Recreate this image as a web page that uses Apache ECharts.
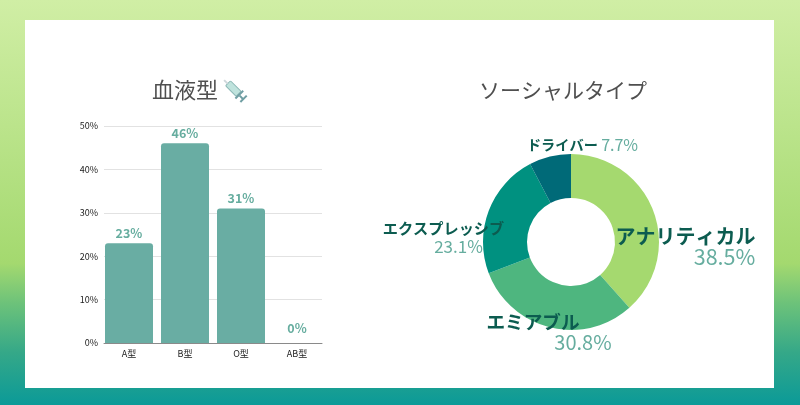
<!DOCTYPE html>
<html><head><meta charset="utf-8">
<style>html,body{margin:0;padding:0;background:#fff}#c{width:800px;height:405px}</style>
<script src="https://cdn.jsdelivr.net/npm/echarts@6/dist/echarts.min.js"></script></head>
<body><div id="c"></div>
<script>
const bloodTypes = ['A型','B型','O型','AB型'];
const bloodValues = [23,46,31,0];
const socialNames = ['アナリティカル','エミアブル','エクスプレッシブ','ドライバー'];
const socialValues = [38.5,30.8,23.1,7.7];
const socialColors = ['#a5d96f','#4eb67f','#009180','#006a78'];
const F = '"Noto Sans CJK JP","Noto Sans",sans-serif';
const NAME='#0c5c50', VAL='#66ad9f';
const labelStyles = [
 {nameSize:20,valSize:21.5,offset:[50,29],sep:'\n',valPad:[0,0,0,78],lh:20},
 {nameSize:18.6,valSize:20,offset:[-5,23],sep:'\n',valPad:[0,0,0,67],namePad:[0,33,0,0],lh:21},
 {nameSize:15.2,valSize:17,offset:[-63,20],sep:'\n',valPad:[0,0,0,30],lh:19},
 {nameSize:14.2,valSize:16,offset:[28,-30],sep:' ',lh:17}
];
const chart = echarts.init(document.getElementById('c'));
chart.setOption({
 animation:false,
 backgroundColor:new echarts.graphic.LinearGradient(0,0,0,1,[
  {offset:0,color:'#d0eea5'},{offset:0.65,color:'#a4d96f'},{offset:0.75,color:'#6cc27a'},{offset:0.87,color:'#35a888'},{offset:1,color:'#0b9a98'}]),
 graphic:[
  {type:'rect',z:-1,shape:{x:25,y:20,width:749,height:368},style:{fill:'#fff'}},
  {type:'group',x:234,y:90,rotation:Math.PI/4,z:3,children:[
    {type:'rect',shape:{x:-3,y:-9,width:7,height:15,r:1},style:{fill:'#bfe3dd',stroke:'#8cb8b6',lineWidth:1}},
    {type:'rect',shape:{x:-1,y:-14,width:2,height:5},style:{fill:'#cfd8dc'}},
    {type:'rect',shape:{x:-5,y:6,width:11,height:2},style:{fill:'#6f9ea3'}},
    {type:'rect',shape:{x:-1,y:8,width:2,height:5},style:{fill:'#6f9ea3'}},
    {type:'rect',shape:{x:-4,y:12,width:9,height:2},style:{fill:'#6f9ea3'}}
  ]}
 ],
 title:[
  {text:'血液型',left:180,top:85,textAlign:'center',textVerticalAlign:'middle',textStyle:{fontFamily:F,fontSize:22,fontWeight:'normal',color:'#4f4f4f'}},
  {text:'ソーシャルタイプ',left:558,top:85,textAlign:'center',textVerticalAlign:'middle',textStyle:{fontFamily:F,fontSize:21,fontWeight:'normal',color:'#4f4f4f'}}
 ],
 grid:[{left:104,top:126,width:218,height:217},{left:101,top:126,width:224,height:217}],
 xAxis:[
  {gridIndex:0,type:'category',data:bloodTypes,axisTick:{show:false},axisLabel:{show:false},axisLine:{lineStyle:{color:'#8a8a8a',width:1}}},
  {gridIndex:1,type:'category',data:bloodTypes,axisTick:{show:false},axisLine:{show:false},axisLabel:{fontFamily:F,fontSize:9,color:'#222',margin:6}}
 ],
 yAxis:[
  {gridIndex:0,type:'value',min:0,max:50,interval:10,axisLine:{show:false},axisTick:{show:false},
   axisLabel:{fontFamily:F,fontSize:9,color:'#222',margin:6,formatter:'{value}%'},
   splitLine:{lineStyle:{color:'#e2e2e2',width:1}}},
  {gridIndex:1,type:'value',min:0,max:50,interval:10,show:false,splitLine:{show:false}}
 ],
 series:[
  {type:'bar',xAxisIndex:1,yAxisIndex:1,barWidth:48,itemStyle:{color:'#69ada3',borderRadius:[3,3,0,0]},
   data:bloodValues.map(v=>({value:v,label:{distance:v===0?8:4}})),
   label:{show:true,position:'top',formatter:'{c}%',fontFamily:F,fontSize:12.5,fontWeight:'bold',color:VAL}},
  {type:'pie',center:[571,242],radius:[44,88],startAngle:90,clockwise:true,silent:true,
   labelLine:{show:false},
   data:socialNames.map((n,i)=>{const s=labelStyles[i];return {name:n,value:socialValues[i],itemStyle:{color:socialColors[i]},
    label:{show:true,position:'inside',offset:s.offset,
     formatter:'{n|'+n+'}'+s.sep+'{v|'+socialValues[i]+'%}',
     rich:{n:{fontFamily:F,fontSize:s.nameSize,fontWeight:'bold',color:NAME,lineHeight:s.lh,padding:s.namePad||0},
           v:{fontFamily:F,fontSize:s.valSize,color:VAL,lineHeight:s.lh,padding:s.valPad||0}}}};})
  }
 ]
});
</script></body></html>
